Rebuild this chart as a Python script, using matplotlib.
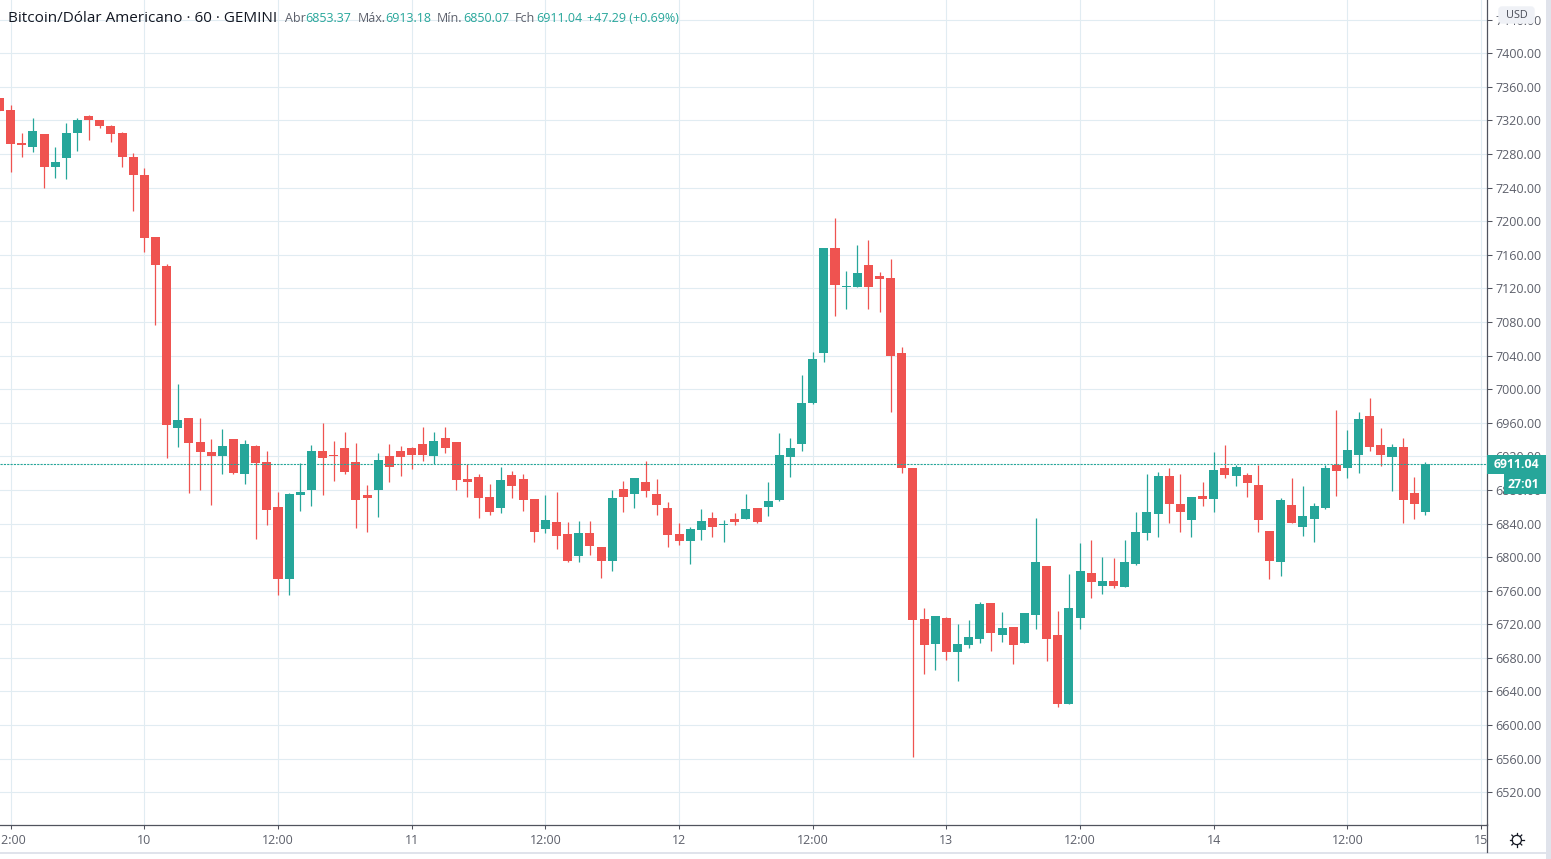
import numpy as np
import matplotlib
matplotlib.use("Agg")
import matplotlib.pyplot as plt
from matplotlib.patches import FancyBboxPatch, Rectangle, Circle

opens = [7347,7332,7292.6,7288,7303.3,7264,7275,7304.5,7324.8,7321,7314,7304.5,7276,7254.6,7181,7146.4,
 6954,6965.9,6937.4,6925.5,6920.7,6941,6899.3,6932.6,6913.6,6860,6774.5,6874.4,6880.3,6926.7,6922.2,6930.3,6913.6,6874.4,6880.3,6920.7,6926.7,6930.3,6935,6920.7,6941.4,
 6936.6,6892.6,6895,6871.2,6858,6897.4,6892.6,6868.9,6833.2,6841.5,6827.2,6801,6828.4,6811.8,6795,6880.7,6874.8,6889,6874.8,6858,6827.2,6819,6832,6846.3,6837.8,6845,6845,6858,6859.3,6867.7,
 6919.8,6935.3,6984,7043.5,7168.3,7121.8,7122,7148,7135,7132.6,7043.5,6905.6,
 6726.5,6696.8,6727.7,6687.3,6695.6,6702.8,6745.5,6707.5,6717,6698,6731.2,6789.4,6707.5,6625.6,6727.7,6781,6765.7,6771.6,6764.5,6791.8,6829,6851.7,
 6897,6863.7,6844.6,6873.2,6869.7,6906.7,6897,6898.3,6886.4,6831.5,6794.4,6862.5,6836.2,6845.8,6859,6910.3,6906.7,6922,6967.5,6933,6919.8,6931.7,6876.8,6853.37]
highs = [7347,7338,7304.5,7322.4,7303.5,7289,7316.4,7322.4,7326,7321,7315,7305.7,7280.8,7263,7181,7148.8,
 7006.3,6966,6966,6941,6952.8,6941,6939.8,6933.8,6926.7,6878,6876.8,6912.4,6933.8,6960,6938.6,6949.3,6936,6886.3,6924.3,6935,6932.6,6931.4,6955.2,6949.3,6954.5,
 6936.6,6910.5,6898.6,6886.7,6906.9,6902,6898.6,6868.9,6873.6,6877.2,6841.5,6842.7,6842.7,6811.8,6879.5,6890.3,6893.8,6914,6892.6,6865.3,6840.3,6835.6,6857,6853.4,6843.9,6852.2,6874.8,6858,6889,6947.3,
 6942.4,7017.3,7044.6,7168.3,7204,7141,7171.9,7177.8,7139.8,7155.2,7050.6,6905.6,
 6739.5,6730,6728.9,6720.6,6725.3,6746.7,6745.5,6734.8,6717,6733.6,6846.3,6789.4,6736,6780,6816.7,6820.2,6800,6798.9,6820.2,6853.4,6899.5,6901.9,
 6906.7,6899.5,6872,6890,6924.6,6934,6910,6900.7,6910.3,6831.5,6870.8,6894.7,6885,6865,6910.3,6974.7,6950.8,6972.3,6989,6953.2,6935.3,6941.3,6896,6913.18]
lows = [7331,7259,7276,7282,7240,7252,7250,7284,7297,7310.5,7294,7264,7212,7163,7076,6918.4,
 6931.4,6876.8,6880.3,6862.5,6899.3,6899.3,6887.5,6822,6838.7,6754.3,6754.3,6855.4,6861.3,6874.4,6891,6899.3,6835,6830.4,6848.2,6889.8,6897,6905.3,6914.8,6911.2,6923.5,
 6879.5,6871.2,6846.3,6849.8,6852.2,6870,6854.6,6817.7,6828.4,6809.4,6794,6794,6802.3,6775,6783.3,6853.4,6858,6871.2,6849.8,6811.8,6814,6791.6,6820,6823.7,6817.7,6838,6845,6840.3,6848.6,6867,
 6896,6925.8,6982.8,7032.8,7087.5,7095.8,7122,7095.8,7092,6973.3,6899.6,6561.6,
 6661.2,6666,6678,6653,6692,6698,6688.5,6699.2,6673,6698,6714.6,6676.6,6621,6624.5,6714.6,6751.4,6756,6763.3,6764.5,6790.6,6820.7,6824.3,
 6841,6830.3,6824.3,6861.3,6854,6894.7,6885,6872,6830.3,6774,6777.7,6841,6825.5,6818.3,6857.7,6873.2,6894.7,6900.7,6925.8,6909,6879.2,6841,6845.8,6850.07]
closes = [7331,7291.4,7291.2,7307,7264,7270,7304.5,7321,7320,7314,7303.3,7276,7254.6,7179.7,7147.6,6957.6,
 6963.5,6936,6925.5,6920.7,6932.6,6900.5,6935,6912.4,6856.5,6774.5,6875.6,6878,6926.7,6918.4,6920.7,6901.7,6868.4,6870.8,6916,6907.7,6919.5,6922,6922,6938.6,6929.5,
 6891.4,6889,6870,6853.4,6891.4,6884.3,6867.7,6829.6,6843.9,6824.9,6795,6828.4,6813,6795,6870,6871.2,6893.8,6878.4,6861.7,6826,6819,6833,6842.7,6835.6,6839,6841.5,6857,6841.5,6866.5,6921.2,
 6930.5,6984,7036,7168.3,7124.3,7123,7138.6,7122,7131.4,7040,6905.6,6725.3,
 6695.6,6730,6687.3,6696.8,6705,6744.3,6710,6715.8,6695.6,6733.6,6794,6702.8,6624.5,6739.5,6783.4,6770.4,6771.6,6765.7,6794,6829.7,6854,6897,
 6863.7,6854,6872,6869.7,6904.3,6898.3,6907.9,6888.8,6844.6,6795.6,6868.5,6841,6849.4,6861.3,6906.7,6902,6927,6965,6931.7,6922.2,6931.7,6868.5,6863.7,6911.04]

price_ticks = list(range(6520, 7480, 40))
time_tick_idx = [0, 12, 24, 36, 48, 60, 72, 84, 96, 108, 120, 132]
time_tick_labels = ["12:00", "10", "12:00", "11", "12:00", "12", "12:00", "13", "12:00", "14", "12:00", "15"]
last_price = 6911.04

UP, DOWN = "#26a69a", "#ef5350"
GRID, AXIS, TXT = "#e1ecf2", "#50535e", "#5d606b"
FONT = ["Open Sans", "DejaVu Sans"]
plt.rcParams["font.family"] = FONT

W, H = 1551, 859
fig = plt.figure(figsize=(W / 100, H / 100), dpi=100, facecolor="white")
AX_R, AX_B = 1486.5, 824.5
ax = fig.add_axes([0, 1 - AX_B / H, AX_R / W, AX_B / H])

idx = np.arange(-1, len(opens) - 1)
o, h, l, c = map(np.array, (opens, highs, lows, closes))
colors = np.where(c >= o, UP, DOWN)

ax.set_xlim(-0.955, (AX_R - 10.65) / 11.14)
ax.set_ylim(7400 - (AX_B - 53.3) * 1.1909, 7400 + 53.3 * 1.1909)

ax.vlines(idx, l, h, colors=colors, linewidth=0.9, zorder=3)
ax.bar(idx, np.maximum(np.abs(c - o), 1.3), bottom=np.minimum(o, c), width=0.81,
       color=colors, linewidth=0, zorder=4)
ax.axhline(last_price, color=UP, linewidth=0.8, linestyle=(0, (2, 1)), zorder=5)

ax.set_axisbelow(True)
ax.set_yticks(price_ticks)
ax.set_yticklabels([f"{p:.2f}" for p in price_ticks])
ax.yaxis.tick_right()
ax.set_xticks(time_tick_idx)
ax.set_xticklabels(time_tick_labels)
ax.grid(True, color=GRID, linewidth=0.8)
ax.tick_params(axis="y", length=3.4, width=0.75, color=AXIS, labelcolor=TXT, labelsize=9, pad=3)
ax.tick_params(axis="x", length=3, width=0.75, color=AXIS, labelcolor=TXT, labelsize=9, pad=4)
for s in ("top", "left"):
    ax.spines[s].set_visible(False)
for s in ("right", "bottom"):
    ax.spines[s].set_color(AXIS)
    ax.spines[s].set_linewidth(0.9)

# Chrome layer in pixel coordinates
ov = fig.add_axes([0, 0, 1, 1], facecolor="none")
ov.set_xlim(0, W)
ov.set_ylim(H, 0)
ov.axis("off")
ov.add_patch(Rectangle((1546, 0), 5, H, color="#e0e3eb", lw=0))
ov.add_patch(Rectangle((0, 852), 1546, 2, color="#e0e3eb", lw=0))
ov.plot([1486.7, 1486.7], [824, 852], color=AXIS, lw=0.9)

ov.add_patch(FancyBboxPatch((1499, 7), 35, 16, boxstyle="round,pad=0,rounding_size=3",
                            mutation_aspect=1, fc="#eff1f6", ec="#eff1f6", lw=1))
ov.text(1516.5, 15, "USD", ha="center", va="center", fontsize=7.8, color="#4a4d57")

ov.add_patch(Rectangle((1487, 455), 59, 19, color=UP, lw=0))
ov.add_patch(Rectangle((1504, 474), 42, 20, color=UP, lw=0))
ov.text(1516.5, 464.5, f"{last_price:.2f}", ha="center", va="center", fontsize=8.8,
        color="white", fontweight="bold")
ov.text(1523, 484.5, "27:01", ha="center", va="center", fontsize=8.8, color="white", fontweight="bold")

# settings glyph
cx, cy = 1516.8, 840
ov.add_patch(Circle((cx, cy), 4.6, fc="white", ec="#131722", lw=0.9))
for a in np.deg2rad(np.arange(0, 360, 45)):
    ov.plot([cx + 4.8 * np.cos(a), cx + 7 * np.cos(a)], [cy + 4.8 * np.sin(a), cy + 7 * np.sin(a)],
            color="#131722", lw=0.9)

# header
ov.text(8, 18, "Bitcoin/Dólar Americano · 60 · GEMINI", ha="left", va="center", fontsize=10.95, color="#131722")
for x, s, col in [(285, "Abr", TXT), (305, "6853.37", UP), (358, "Máx.", TXT), (385, "6913.18", UP),
                  (437, "Mín.", TXT), (463, "6850.07", UP), (515, "Fch", TXT), (536, "6911.04", UP),
                  (587, "+47.29 (+0.69%)", UP)]:
    ov.text(x, 18, s, ha="left", va="center", fontsize=9, color=col)

fig.savefig("out.png", dpi=100)
